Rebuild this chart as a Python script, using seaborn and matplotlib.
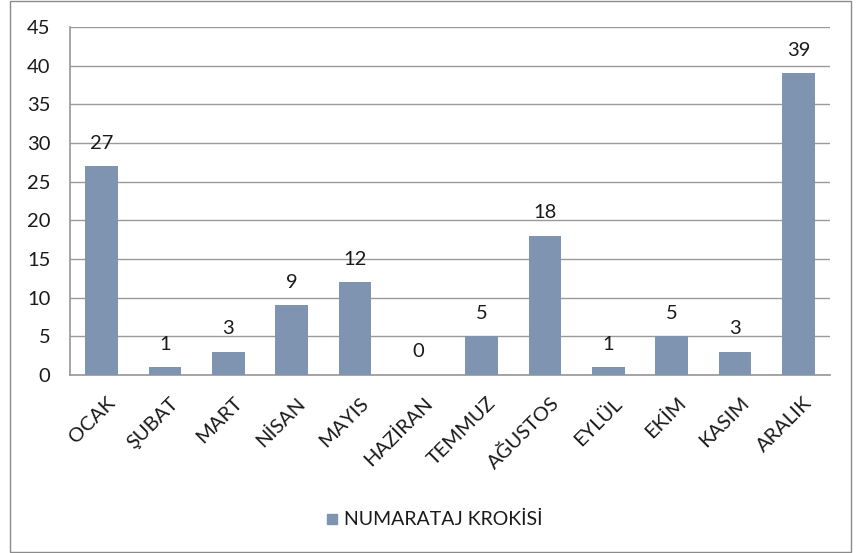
import matplotlib
matplotlib.use("Agg")
import matplotlib.pyplot as plt
import matplotlib.transforms as mtransforms
import seaborn as sns
import pandas as pd
from matplotlib.patches import Rectangle

months = ["OCAK", "ŞUBAT", "MART", "NİSAN", "MAYIS", "HAZİRAN", "TEMMUZ",
          "AĞUSTOS", "EYLÜL", "EKİM", "KASIM", "ARALIK"]
values = [27, 1, 3, 9, 12, 0, 5, 18, 1, 5, 3, 39]
series_name = "NUMARATAJ KROKİSİ"
yticks = [0, 5, 10, 15, 20, 25, 30, 35, 40, 45]

sns.set_theme(style="white")
plt.rcParams['font.family'] = ['Lato', 'DejaVu Sans']

df = pd.DataFrame({"month": months, "value": values, "series": series_name})

fig = plt.figure(figsize=(8.59, 5.53), dpi=100)
ax = fig.add_axes([70/859, 1 - 375/553, (830-70)/859, (375-27)/553])
color = "#7F94B0"
sns.barplot(data=df, x="month", y="value", hue="series", palette=[color],
            width=0.52, saturation=1, linewidth=0, ax=ax, legend=False, zorder=3)

ax.set_ylim(0, 45)
ax.set_yticks(yticks)
ax.set_xlim(-0.5, len(months) - 0.5)
ax.yaxis.grid(True, color="#9a9a9a", linewidth=1, zorder=0)
ax.set_axisbelow(True)
for s in ["top", "right"]:
    ax.spines[s].set_visible(False)
ax.spines["left"].set_color("#9a9a9a")
ax.spines["bottom"].set_color("#9a9a9a")
ax.set_xlabel("")
ax.set_ylabel("")
ax.tick_params(axis="y", labelsize=14.5, colors="#1a1a1a", pad=14, length=0)
ax.tick_params(axis="x", labelsize=14.5, colors="#1a1a1a", length=0, pad=14)
offset = mtransforms.ScaledTranslation(5/100, 0, fig.dpi_scale_trans)
for lbl in ax.get_xticklabels():
    lbl.set_rotation(45)
    lbl.set_ha("right")
    lbl.set_rotation_mode("anchor")
    lbl.set_transform(lbl.get_transform() + offset)

for i, v in enumerate(values):
    ax.text(i, v + 1.9, str(v), ha="center", va="bottom", fontsize=14.5, color="#1a1a1a")

# legend
fig.patches.append(Rectangle((327/859, 1 - 524/553), 10/859, 10/553,
                             transform=fig.transFigure, color=color))
fig.text(344/859, 1 - 519/553, series_name, fontsize=14, color="#1a1a1a",
         va="center", ha="left")

# chart border
fig.patches.append(Rectangle((10/859, 1 - 552/553), (851-10)/859, (552-1)/553,
                             transform=fig.transFigure, fill=False,
                             edgecolor="#8a8a8a", linewidth=1))

fig.savefig("out.png", dpi=100)
